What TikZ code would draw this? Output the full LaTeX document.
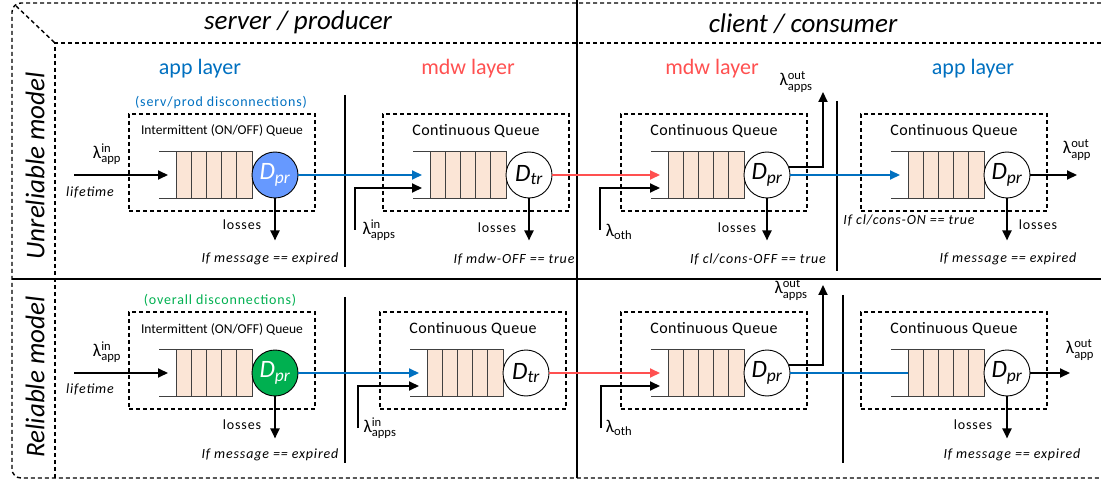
\documentclass[tikz,border=0pt]{standalone}
\usepackage{amsmath}
\usepackage{fontspec}
\setmainfont{Carlito}
\newfontfamily\widefont{Carlito}[LetterSpace=6]
\newfontfamily\midfont{Carlito}[LetterSpace=3]
\usetikzlibrary{arrows.meta}
\definecolor{appblue}{HTML}{0070C0}
\definecolor{mdwred}{HTML}{FF5050}
\definecolor{okgreen}{HTML}{00B050}
\definecolor{cellfill}{HTML}{FBE5D6}
\definecolor{srvblue}{HTML}{6699FF}
\definecolor{qgray}{HTML}{404040}
\newcommand\qI{\fontsize{13.5}{16}\selectfont Intermittent (ON/OFF) Queue}
\newcommand\qC{\fontsize{16}{18}\selectfont\midfont Continuous Queue}
\newcommand\lam[2]{λ$^{\text{#1}}_{\text{#2}}$}

\tikzset{
  frameline/.style={line width=1.4pt,dash pattern=on 4pt off 3pt},
  qframe/.style={draw,line width=1.4pt,dash pattern=on 4pt off 3pt,minimum width=186pt,minimum height=97pt},
  cellbox/.style={draw=qgray,fill=cellfill,line width=0.9pt},
  qline/.style={draw=qgray,line width=0.9pt},
  server/.style={circle,draw,line width=0.9pt,minimum size=46pt,inner sep=0pt,font=\fontsize{25}{27}\selectfont},
  arr/.style={line width=2pt,-{Triangle[length=10pt,width=9pt]}},
  sep/.style={line width=1.5pt},
  side/.style={font=\fontsize{27}{30}\selectfont\itshape},
  layer/.style={font=\fontsize{22}{24}\selectfont},
  qtitle/.style={inner sep=0pt},
  disc/.style={font=\fontsize{14}{16}\selectfont\widefont},
  small/.style={font=\fontsize{14}{16}\selectfont\widefont},
  cond/.style={font=\fontsize{14}{16}\selectfont\widefont\itshape},
  rate/.style={font=\fontsize{18}{20}\selectfont,inner sep=0pt}
}

\begin{document}
\begin{tikzpicture}[x=1pt,y=-1pt]
  \useasboundingbox (0,0) rectangle (1101,481);
  % outer frame
  \draw[frameline,rounded corners=9pt] (1101,3) -- (12,3) -- (12,478) -- (1101,478);
  \draw[frameline] (16,6) -- (55,43);
  \draw[frameline] (1101,43) -- (55,43) -- (55,478);
  \draw[line width=2pt] (577,0) -- (577,478);
  \draw[line width=2pt] (12,279) -- (1101,279);
  \node[side] (srv) at (298,22) {server / producer};
  \node[side] (cli) at (803,24) {client / consumer};
  \node[side,rotate=90] (unrel) at (35,166) {Unreliable model};
  \node[side,rotate=90] (rel) at (35,377) {Reliable model};

  % layer titles
  \node[layer,text=appblue] (lay1) at (200,69) {app layer};
  \node[layer,text=mdwred] (lay2) at (468,69) {mdw layer};
  \node[layer,text=mdwred] (lay3) at (712,69) {mdw layer};
  \node[layer,text=appblue] (lay4) at (973,69) {app layer};
  \node[disc,text=appblue] (disc1) at (221,103) {(serv/prod disconnections)};
  \node[disc,text=okgreen] (disc2) at (220,300) {(overall disconnections)};

  % separators
  \draw[sep] (345,95) -- (345,267);
  \draw[sep] (837,101) -- (837,271);
  \draw[sep] (345,297) -- (345,463);
  \draw[sep] (843,295) -- (843,463);

  % queues with their servers
  \foreach \n/\x/\y/\fillc/\txt/\sub/\ttl in {
    sa/275/175/srvblue/white/pr/\qI, sm/529/175/white/black/tr/\qC,
    cm/767/175/white/black/pr/\qC, ca/1007/175/white/black/pr/\qC,
    ra/275/373/okgreen/white/pr/\qI, rm/526/373/white/black/tr/\qC,
    rc/767/373/white/black/pr/\qC, rk/1007/373/white/black/pr/\qC
  }{
    \node[qframe] (b\n) at (\x-53,\y-12.5) {};
    \node[qtitle] (t\n) at (\x-53,\y-44) {\ttl};
    \draw[qline] (\x-116,\y-23.5) -- (\x-99,\y-23.5);
    \draw[qline] (\x-116,\y+23.5) -- (\x-99,\y+23.5);
    \foreach \k in {0,...,4}
      \draw[cellbox] (\x-99+\k*15.2,\y-23.5) rectangle ++(15.2,47);
    \node[server,fill=\fillc,text=\txt] (d\n) at (\x,\y) {\textit{D}$_{\textit{\sub}}$};
    \coordinate (q\n) at (\x-107,\y);
    \coordinate (k\n) at (\x-99,\y);
    \coordinate (r\n) at (\x-107,\y+13);
  }

  % unreliable model flows
  \coordinate (inA) at (74,175);
  \draw[arr] (inA) -- (qsa);
  \draw[arr,draw=appblue] (dsa.east) -- (qsm);
  \draw[arr,draw=mdwred] (dsm.east) -- (qcm);
  \draw[arr,draw=appblue] (dcm.east) -- (qca);
  \coordinate (appsA) at (355,230);
  \draw[arr] (appsA) |- (rsm);
  \coordinate (othA) at (600,230);
  \draw[arr] (othA) |- (rcm);
  \coordinate (outA) at (823,92);
  \draw[arr] (dcm.20) -| (outA);
  \coordinate (outB) at (1077,175);
  \draw[arr] (dca.east) -- (outB);
  \foreach \n in {sa,sm,cm,ca}
    \draw[arr] (d\n.south) -- ++(0,42);

  % reliable model flows
  \coordinate (inB) at (74,373);
  \draw[arr] (inB) -- (qra);
  \draw[arr,draw=appblue] (dra.east) -- (qrm);
  \draw[arr,draw=mdwred] (drm.east) -- (qrc);
  \draw[line width=2pt,appblue] (drc.east) -- (krk);
  \coordinate (appsB) at (358,428);
  \draw[arr] (appsB) |- (rrm);
  \coordinate (othB) at (601,428);
  \draw[arr] (othB) |- (rrc);
  \coordinate (outC) at (823,285);
  \draw[arr] (drc.20) -| (outC);
  \coordinate (outD) at (1070,373);
  \draw[arr] (drk.east) -- (outD);
  \foreach \n in {ra,rk}
    \draw[arr] (d\n.south) -- ++(0,42);

  % rates
  \node[rate] (l1) at (107,154) {\lam{in}{app}};
  \node[rate] (l2) at (379,230) {\lam{in}{apps}};
  \node[rate] (l3) at (619,232) {λ$_{\text{oth}}$};
  \node[rate] (l4) at (796,82) {\lam{out}{apps}};
  \node[rate] (l5) at (1077,150) {\lam{out}{app}};
  \node[rate] (l6) at (107,352) {\lam{in}{app}};
  \node[rate] (l7) at (380,428) {\lam{in}{apps}};
  \node[rate] (l8) at (619,428) {λ$_{\text{oth}}$};
  \node[rate] (l9) at (791,290) {\lam{out}{apps}};
  \node[rate] (l10) at (1080,350) {\lam{out}{app}};
  \node[cond] (life1) at (90,192) {lifetime};
  \node[cond] (life2) at (90,389) {lifetime};

  % losses and conditions
  \foreach \i/\x/\y in {1/242/225, 2/497/228, 3/737/228, 4/1038/225, 5/242/425, 6/973/425}
    \node[small] (loss\i) at (\x,\y) {losses};
  \node[cond] (c1) at (270,259) {If message == expired};
  \node[cond] (c2) at (514,259) {If mdw-OFF == true};
  \node[cond] (c3) at (758,259) {If cl/cons-OFF == true};
  \node[cond] (c4) at (909,220) {If cl/cons-ON == true};
  \node[cond] (c5) at (1008,259) {If message == expired};
  \node[cond] (c6) at (270,455) {If message == expired};
  \node[cond] (c7) at (1012,455) {If message == expired};
\end{tikzpicture}
\end{document}
